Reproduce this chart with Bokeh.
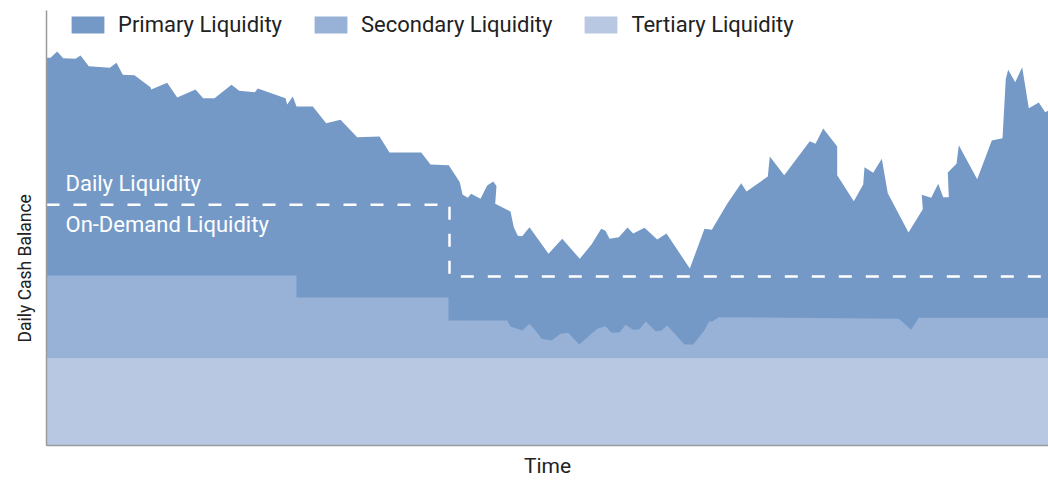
from bokeh.plotting import figure
from bokeh.models import Legend, LegendItem, Label, Range1d, Title
from bokeh.embed import file_html
from bokeh.resources import INLINE

# ---- data (time index, balance units) ----
time_total = [0, 4, 10.7, 16.7, 29, 34, 42.3, 63.3, 70, 76.3, 88, 104, 104.7, 120.7, 130.7, 149,
              156.7, 168, 185, 192.7, 208.3, 211.3, 239, 240.7, 246.3, 250, 266.3, 279.7, 294,
              310.7, 333, 343, 374.7, 384, 402.3, 413.3, 416, 421.3, 424.7, 434, 440.7, 446.7,
              450, 448.7, 464, 467.3, 471.3, 475.7, 483, 502, 515.7, 533.3, 545, 554.7, 559, 563,
              572.3, 581, 586.7, 598, 610.7, 620, 643.3, 658, 665.3, 680.7, 694.7, 700, 721.3,
              723.3, 737.7, 763.3, 769, 776.7, 790.7, 790.7, 807.3, 816.7, 818, 826.7, 835.3,
              841.3, 862, 876.3, 875.3, 884.7, 891.7, 896.7, 902.3, 901.3, 910, 912.3, 930.7,
              945.3, 956, 959.3, 961.7, 968.7, 975.7, 982.3, 992.3, 998.7, 1002]
balance_total = [387.7, 387.7, 394, 387.3, 386.7, 390, 379.3, 377.7, 382.7, 370.7, 370.3, 358.3,
                 356, 362.7, 348, 356, 347.3, 347.3, 360.7, 354.7, 353.3, 357, 347.3, 341, 349,
                 339, 339, 322.3, 325.7, 308.3, 309, 293, 293, 281, 280.3, 263.3, 251, 247.7,
                 251.7, 246.7, 260, 264, 259.5, 241.7, 234, 218.3, 209.7, 209.3, 218.3, 191.7,
                 206.7, 186.7, 201, 216.7, 214.7, 206.7, 208.3, 218, 212, 217.7, 206, 212, 177,
                 216.7, 215.7, 241.7, 262.3, 254, 269, 289, 270.3, 304.3, 301.7, 317, 299, 270.3,
                 244.3, 261, 278.3, 272.7, 286.7, 252.3, 213, 236.3, 250.7, 247.7, 261.7, 248.3,
                 248.3, 273, 281.7, 300.3, 266.3, 305, 307.3, 366.7, 375.7, 363.3, 378.3, 337.3,
                 343, 333.3, 335]

time_secondary = [0, 250, 250, 402, 402, 460.7, 464, 475.7, 483, 489, 495, 505, 514, 521.7, 532.7,
                  550.7, 559, 565, 573.3, 579, 586.7, 593, 599.3, 609, 615, 620.7, 638, 646.7,
                  658.3, 662.3, 665.7, 672.3, 852.3, 864.7, 872.3, 1002]
secondary_top = [170, 170, 148, 148, 125, 125, 119, 115, 121.7, 115, 106.7, 105, 111.7, 112.7, 101,
                 116.7, 119.3, 112.7, 113.3, 120.7, 115.7, 116.3, 124, 114.3, 115, 120, 101, 101,
                 115.7, 124, 124, 128.3, 126.7, 115.7, 127.7, 127.7]

time_span = [0, 1002]
tertiary_top = [87.5, 87.5]

threshold_time = [0, 403, 403, 1002]
threshold_level = [240.7, 240.7, 169, 169]

series_names = ["Primary Liquidity", "Secondary Liquidity", "Tertiary Liquidity"]
series_colors = ["#7499C6", "#98B1D6", "#B8C8E2"]

FONT = "Roboto"

p = figure(width=1048, height=481, output_backend="svg", toolbar_location=None,
           x_range=Range1d(0, 1002), y_range=Range1d(0, 435),
           min_border_left=46, min_border_right=0, min_border_top=10, min_border_bottom=36)
p.grid.visible = False
p.outline_line_color = None
p.background_fill_color = "white"

r1 = p.patch(time_total + [time_span[1], time_span[0]], balance_total + [0, 0],
             fill_color=series_colors[0], line_color=None)
r2 = p.patch(time_secondary + [time_span[1], time_span[0]], secondary_top + [0, 0],
             fill_color=series_colors[1], line_color=None)
r3 = p.varea(x=time_span, y1=[0, 0], y2=tertiary_top, fill_color=series_colors[2])

p.line(threshold_time, threshold_level, line_color="white", line_width=2.5, line_dash="13 14")

for ax in (p.xaxis, p.yaxis):
    ax.ticker = []
    ax.major_tick_line_color = None
    ax.minor_tick_line_color = None
    ax.major_label_text_font_size = "0px"
    ax.axis_line_color = "#9a9a9a"
    ax.axis_line_width = 1.5

p.xaxis.axis_label = "Time"
p.xaxis.axis_label_text_font = FONT
p.xaxis.axis_label_text_font_size = "21px"
p.xaxis.axis_label_text_font_style = "normal"
p.xaxis.axis_label_text_color = "#222222"
p.xaxis.axis_label_standoff = 8

p.add_layout(Title(text="Daily Cash Balance", align="left", offset=103,
                   standoff=24, text_font=FONT, text_font_size="17.5px",
                   text_font_style="normal", text_color="#222222"), "left")

p.add_layout(Label(x=19, y=262, text="Daily Liquidity", text_color="white",
                   text_font=FONT, text_font_size="22px", text_baseline="alphabetic"))
p.add_layout(Label(x=19, y=221, text="On-Demand Liquidity", text_color="white",
                   text_font=FONT, text_font_size="22px", text_baseline="alphabetic"))

legend = Legend(items=[LegendItem(label=series_names[0], renderers=[r1]),
                       LegendItem(label=series_names[1], renderers=[r2]),
                       LegendItem(label=series_names[2], renderers=[r3])],
                orientation="horizontal", location=(21, 408),
                glyph_width=41, glyph_height=21, label_standoff=10, spacing=28,
                padding=0, margin=0, border_line_color=None, background_fill_alpha=0,
                label_text_font=FONT, label_text_font_size="22px", label_text_color="#222222")
p.add_layout(legend)

open("out.html", "w").write(file_html(p, INLINE))
